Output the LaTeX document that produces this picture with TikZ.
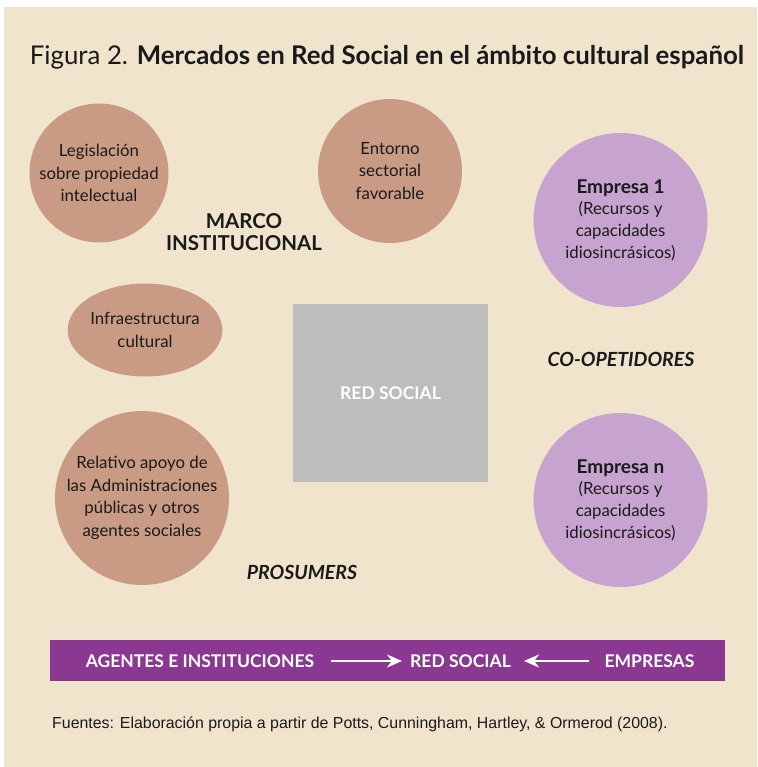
\documentclass[tikz,border=0pt]{standalone}
\usepackage{fontspec}
\setmainfont{Lato}
\newfontfamily\arialfont{Liberation Sans}
\usetikzlibrary{shapes.geometric,arrows.meta}
\definecolor{bgbeige}{HTML}{F0E4CD}
\definecolor{tan}{HTML}{C99B84}
\definecolor{lilac}{HTML}{C6A4CF}
\definecolor{boxgray}{HTML}{BDBDBD}
\definecolor{barpurple}{HTML}{8A3891}
\definecolor{ink}{HTML}{1A1A1A}
\newcommand{\emphead}[1]{{\bfseries\fontsize{19}{21.7}\selectfont #1}}
\tikzset{
  tancirc/.style={circle, fill=tan, inner sep=0pt, text=ink, align=center,
    font=\fontsize{16.8}{22.5}\selectfont},
  lilcirc/.style={circle, fill=lilac, inner sep=0pt, text=ink, align=center,
    font=\fontsize{16.8}{21.7}\selectfont, minimum size=174pt},
  biglabel/.style={text=ink, align=center, font=\bfseries\fontsize{20.5}{22}\selectfont},
  ilabel/.style={text=ink, align=center, font=\bfseries\itshape\fontsize{19.5}{21}\selectfont},
  bartext/.style={text=white, font=\bfseries\fontsize{17.5}{19}\selectfont, inner sep=0pt},
  bararrow/.style={draw=white, line width=2.6pt, -{Stealth[length=15pt,width=13pt]}}
}
\begin{document}
\begin{tikzpicture}[x=1pt,y=-1pt]
\useasboundingbox (0,0) rectangle (757,767);
\fill[white] (0,0) rectangle (757,767);
\fill[bgbeige] (4,7) rectangle (757,767);

% title
\node[text=ink, font=\fontsize{25.8}{30}\selectfont, anchor=base] (title) at (387,65)
  {Figura 2. \textbf{Mercados en Red Social en el ámbito cultural español}};

% circles
\node[tancirc, minimum size=139pt] (leg) at (99,173)
  {Legislación\\sobre propiedad\\intelectual};
\node[tancirc, minimum size=144pt] (ent) at (390,171)
  {Entorno\\sectorial\\favorable};
\node[tancirc, ellipse, minimum width=144pt, minimum height=93pt] (inf) at (145,330)
  {Infraestructura\\cultural};
\node[tancirc, minimum size=174pt] (rel) at (142,498)
  {Relativo apoyo de\\las Administraciones\\públicas y otros\\agentes sociales};
\node[lilcirc] (emp1) at (620.5,220)
  {\emphead{Empresa 1}\\(Recursos y\\capacidades\\idiosincrásicos)};
\node[lilcirc] (empn) at (620.5,500)
  {\emphead{Empresa n}\\(Recursos y\\capacidades\\idiosincrásicos)};

% central box
\node[fill=boxgray, minimum width=195pt, minimum height=178pt, inner sep=0pt,
  text=white, font=\bfseries\fontsize{17.5}{19}\selectfont] (red) at (390.5,393) {RED SOCIAL};

% labels
\node[biglabel] (marco) at (244,232) {MARCO\\INSTITUCIONAL};
\node[ilabel] (coop) at (621,359) {CO-OPETIDORES};
\node[ilabel] (pros) at (302,572) {PROSUMERS};

% bottom bar
\node[fill=barpurple, minimum width=675pt, minimum height=41pt, inner sep=0pt] (bar) at (387.5,660.5) {};
\node[bartext] (bagentes) at (200,661) {AGENTES E INSTITUCIONES};
\node[bartext] (bred) at (460.5,661) {RED SOCIAL};
\node[bartext] (bemp) at (649.5,661) {EMPRESAS};
\draw[bararrow, shorten <=17pt, shorten >=8pt] (bagentes.east) -- (bred.west);
\draw[bararrow, shorten <=15pt, shorten >=13pt] (bemp.west) -- (bred.east);

% source
\node[anchor=base west, text=ink, font=\arialfont\fontsize{15.9}{18}\selectfont, inner sep=0pt] (src) at (52,728)
  {Fuentes: Elaboración propia a partir de Potts, Cunningham, Hartley, \& Ormerod (2008).};
\end{tikzpicture}
\end{document}
